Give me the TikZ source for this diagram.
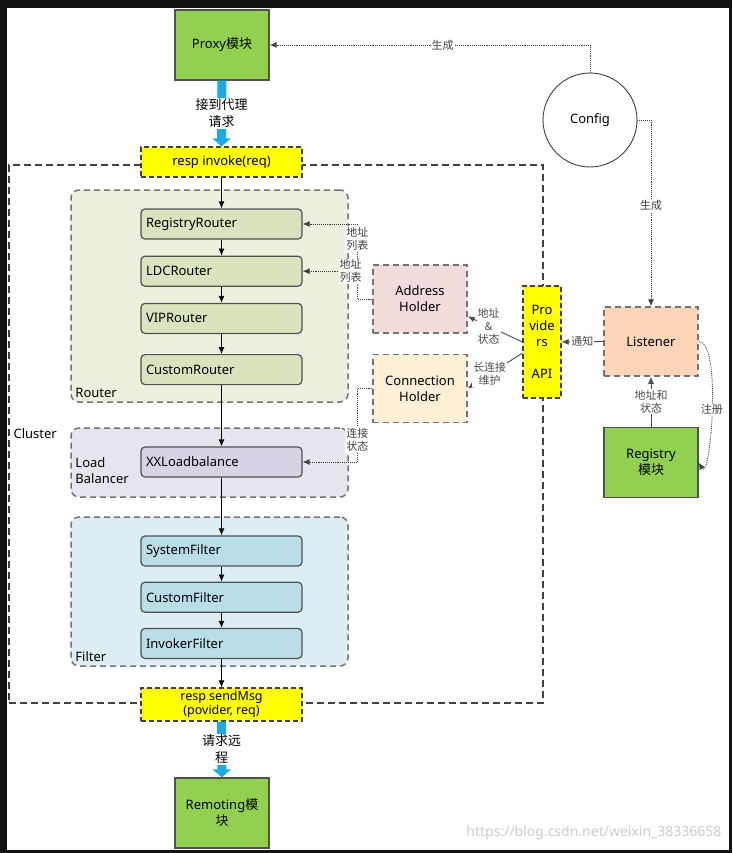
\documentclass[tikz,border=0pt]{standalone}
\usepackage{fontspec}
\setmainfont{Noto Sans}
\newfontfamily\cjk{Noto Sans CJK SC}
\usetikzlibrary{positioning}
\usetikzlibrary{arrows.meta}
\definecolor{modgreen}{HTML}{92D050}
\definecolor{callyellow}{HTML}{FFFF00}
\definecolor{routerbg}{HTML}{EBF1DE}
\definecolor{routerfg}{HTML}{D7E4BD}
\definecolor{lbbg}{HTML}{E8E4ED}
\definecolor{lbfg}{HTML}{D9D2E4}
\definecolor{filterbg}{HTML}{DCEEF4}
\definecolor{filterfg}{HTML}{B9DEE8}
\definecolor{peach}{HTML}{FCD5B9}
\definecolor{rose}{HTML}{F2DCDB}
\definecolor{cream}{HTML}{FEF0D6}
\definecolor{pipeblue}{HTML}{1DA9E4}
\definecolor{edgegray}{HTML}{505050}
\tikzset{
	every node/.style={align=center, font=\fontsize{13}{16}\selectfont},
	module/.style={draw=edgegray, fill=modgreen, line width=1.3pt, minimum width=94pt, minimum height=70pt},
	stage/.style={draw=edgegray, rounded corners=4pt, line width=1.2pt, minimum height=30pt, text width=151pt, inner xsep=5pt, align=left},
	group/.style={draw=black!55, dash pattern=on 6pt off 4pt, rounded corners=8pt, line width=1.5pt, minimum width=277pt},
	cluster/.style={draw=black!75, dash pattern=on 7pt off 4pt, line width=1.2pt, minimum width=534pt, minimum height=538pt},
	callbox/.style={draw=black!75, fill=callyellow, dash pattern=on 5pt off 3pt, line width=1.2pt, minimum width=161pt, minimum height=30pt},
	holder/.style={draw=black!55, dash pattern=on 6pt off 4pt, line width=1.5pt, minimum width=94pt, minimum height=68pt},
	grouplabel/.style={inner sep=2pt, align=left},
	flow/.style={-{Latex[length=7pt,width=6pt]}, black, line width=0.9pt},
	notify/.style={-{Latex[length=7pt,width=6pt]}, black!70, line width=0.9pt},
	cfgline/.style={-{Latex[length=7pt,width=6pt]}, black!75, densely dotted, line width=0.9pt},
	pipe/.style={draw=pipeblue, line width=9pt, -{Triangle[length=8pt,width=18pt]}},
	pipetag/.style={fill=white, inner sep=1pt, font=\cjk\fontsize{13}{17}\selectfont},
	tag/.style={fill=white, inner sep=1pt, font=\cjk\fontsize{11}{13}\selectfont}
}

\begin{document}
\begin{tikzpicture}[x=1pt, y=-1pt]
	% screenshot frame
	\useasboundingbox (0,0) rectangle (732,853);
	\fill[black!93] (0,0) rectangle (732,853);
	\fill[white] (7,8) rectangle (729,850);
	
	% Cluster and groups
	\node[cluster] (cluster) at (276,434) {};
	\node[grouplabel, anchor=west] at ([xshift=3pt]cluster.west) {Cluster};
	\node[group, fill=routerbg, minimum height=212pt] (routergrp) at (209.5,296) {};
	\node[group, fill=lbbg, minimum height=69pt] (lbgrp) at (209.5,462.5) {};
	\node[group, fill=filterbg, minimum height=149pt] (filtergrp) at (209.5,591.5) {};
	\node[grouplabel, anchor=south west] at ([shift={(3pt,3pt)}]routergrp.south west) {Router};
	\node[grouplabel, anchor=west] at ([shift={(3pt,-8pt)}]lbgrp.west) {Load\\Balancer};
	\node[grouplabel, anchor=south west] at ([shift={(3pt,3pt)}]filtergrp.south west) {Filter};
	
	% Modules
	\node[module] (proxy) at (222,45) {Proxy{\cjk 模块}};
	\node[module] (remoting) at (222,813) {Remoting{\cjk 模}\\{\cjk 块}};
	\node[module] (registry) at (651,462.5) {Registry\\{\cjk 模块}};
	\node[circle, draw=black!75, line width=0.9pt, minimum size=94pt] (config) at (590,120) {Config};
	
	% Call chain
	\node[callbox] (invoke) at (221.5,162) {resp invoke(req)};
	\node[stage, fill=routerfg] (rrouter) at (221.5,224) {RegistryRouter};
	\node[stage, fill=routerfg, below=16pt of rrouter] (ldc) {LDCRouter};
	\node[stage, fill=routerfg, below=16pt of ldc] (vip) {VIPRouter};
	\node[stage, fill=routerfg, below=20pt of vip] (crouter) {CustomRouter};
	\node[stage, fill=lbfg] (xxlb) at (221.5,462) {XXLoadbalance};
	\node[stage, fill=filterfg] (sysf) at (221.5,551) {SystemFilter};
	\node[stage, fill=filterfg, below=15pt of sysf] (custf) {CustomFilter};
	\node[stage, fill=filterfg, below=15pt of custf] (invf) {InvokerFilter};
	\node[callbox, minimum height=31pt, font=\fontsize{12.5}{14}\selectfont] (sendmsg) at (221.5,704.5) {resp sendMsg\\(povider, req)};
	
	% Holders and listener
	\node[holder, fill=rose] (address) at (420,299) {Address\\Holder};
	\node[holder, fill=cream, below=20pt of address] (conn) {Connection\\Holder};
	\node[callbox, minimum width=38pt, minimum height=112pt, inner sep=1pt] (providers) at (542,342) {Pro\\vide\\rs\\[16pt]API};
	\node[holder, fill=peach, minimum height=69pt] (listener) at (651,341.5) {Listener};
	
	% main flow
	\foreach \a/\b in {invoke/rrouter, rrouter/ldc, ldc/vip, vip/crouter, crouter/xxlb, xxlb/sysf, sysf/custf, custf/invf, invf/sendmsg}
		\draw[flow] (\a) -- (\b);
	\draw[pipe] (proxy) -- (invoke) node[pipetag, midway] {接到代理\\请求};
	\draw[pipe] (sendmsg) -- (remoting) node[pipetag, midway] {请求远\\程};
	
	% config and registry
	\draw[cfgline] (config.north) |- (proxy.east) node[tag, pos=0.73] {生成};
	\draw[cfgline] (config.east) -| (listener.north) node[tag, pos=0.73] {生成};
	\draw[notify] (registry) -- (listener) node[tag, midway] {地址和\\状态};
	\draw[cfgline] (listener.east) to[out=0, in=-60, looseness=0.5] node[tag, midway] {注册} (registry.east);
	\draw[notify] (listener.west) -- (providers.east) node[tag, midway] {通知};
	\draw[notify] (providers.west) -- (address.-20) node[tag, pos=0.62] {地址\\\&\\状态};
	\draw[notify] ([yshift=-11pt]providers.west) -- (conn.east) node[tag, pos=0.6] {长连接\\维护};
	
	% holders to routers
	\draw[cfgline] (address.west) -- ++(-15,0) coordinate (abend) |- (rrouter.east) node[tag, pos=0.4] {地址\\列表};
	\draw[cfgline] (abend |- ldc.east) -- (ldc.east) node[tag, pos=0.12] {地址\\列表};
	\draw[cfgline] (conn.west) -- ++(-15,0) |- (xxlb.east) node[tag, pos=0.35] {连接\\状态};
	
	% watermark
	\node[anchor=east, text=black!20, font=\fontsize{14}{16}\selectfont] (wmark) at (725,833) {https://blog.csdn.net/weixin\_38336658};
\end{tikzpicture}
\end{document}
